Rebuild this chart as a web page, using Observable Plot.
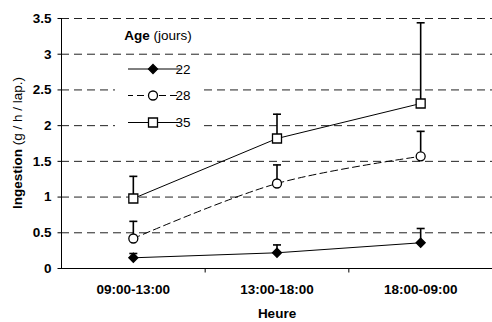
<!DOCTYPE html>
<html><head><meta charset="utf-8">
<script src="https://cdn.jsdelivr.net/npm/d3@7"></script>
<script src="https://cdn.jsdelivr.net/npm/@observablehq/plot@0.6"></script>
<style>
body{margin:0;background:#fff;}
svg{font-family:"Liberation Sans",Arial,sans-serif;}
</style></head>
<body><div id="chart"></div>
<script>
const categories = ["09:00-13:00", "13:00-18:00", "18:00-09:00"];
const ages = ["22", "28", "35"];
const mean22 = [0.15, 0.22, 0.36];
const err22 = [0.06, 0.11, 0.20];
const mean28 = [0.42, 1.19, 1.57];
const err28 = [0.24, 0.26, 0.35];
const mean35 = [0.98, 1.82, 2.31];
const err35 = [0.31, 0.34, 1.13];
const yTicks = [0, 0.5, 1, 1.5, 2, 2.5, 3, 3.5];
const yTickLabels = ["0", "0.5", "1", "1.5", "2", "2.5", "3", "3.5"];
const xTitle = "Heure";
const yTitleBold = "Ingestion";
const yTitleRest = " (g / h / lap.)";
const legendTitleBold = "Age";
const legendTitleRest = " (jours)";

const means = {"22": mean22, "28": mean28, "35": mean35};
const errs = {"22": err22, "28": err28, "35": err35};
const rows = [];
for (const a of ages) categories.forEach((c, i) => rows.push({age: a, cat: c, pos: i + 0.5, y: means[a][i], hi: means[a][i] + errs[a][i]}));

const sq = {draw(ctx){ctx.moveTo(-4.5,-4.5);ctx.lineTo(4.5,-4.5);ctx.lineTo(4.5,4.5);ctx.lineTo(-4.5,4.5);ctx.closePath();}};
const circ = {draw(ctx){ctx.moveTo(4.5,0);ctx.arc(0,0,4.5,0,2*Math.PI);ctx.closePath();}};
const dia = {draw(ctx){ctx.moveTo(0,-4.5);ctx.lineTo(4.5,0);ctx.lineTo(0,4.5);ctx.lineTo(-4.5,0);ctx.closePath();}};
const cap = {draw(ctx){ctx.moveTo(-4,0);ctx.lineTo(4,0);}};
const tickDown = {draw(ctx){ctx.moveTo(0,0);ctx.lineTo(0,4);}};
const tickLeft = {draw(ctx){ctx.moveTo(0,0);ctx.lineTo(-4,0);}};
const symbolOf = {"22": dia, "28": circ, "35": sq};
const fillOf = {"22": "black", "28": "white", "35": "white"};
const dashOf = {"22": null, "28": "7,4", "35": null};

const lineMarks = ages.map(a => Plot.line(rows.filter(r => r.age === a), {
  x: "pos", y: "y", stroke: "black", strokeWidth: 1,
  strokeDasharray: dashOf[a], curve: a === "28" ? "catmull-rom" : "linear"
}));
const markerMarks = ages.map(a => Plot.dot(rows.filter(r => r.age === a), {
  x: "pos", y: "y", symbol: () => symbolOf[a], r: 4, stroke: "black", strokeWidth: 1.3, fill: fillOf[a]
}));

const chart = Plot.plot({
  width: 492, height: 322,
  marginLeft: 61, marginRight: 0, marginTop: 18, marginBottom: 54,
  x: {type: "linear", domain: [0, 3], axis: null},
  y: {type: "linear", domain: [0, 3.5], axis: null},
  style: {fontFamily: "Liberation Sans, Arial, sans-serif", background: "white"},
  marks: [
    Plot.ruleY(yTicks.filter(d => d > 0), {stroke: "#222", strokeWidth: 1, strokeDasharray: "8,5"}),
    Plot.ruleY([0], {stroke: "black", strokeWidth: 1}),
    Plot.ruleX([0], {stroke: "black", strokeWidth: 1}),
    Plot.dot(yTicks, {x: 0, y: d => d, symbol: () => tickLeft, r: 4, stroke: "black", strokeWidth: 1}),
    Plot.dot([1, 2], {x: d => d, y: 0, symbol: () => tickDown, r: 4, stroke: "black", strokeWidth: 1}),
    Plot.text(yTicks, {x: 0, y: d => d, text: (d, i) => yTickLabels[i], dx: -10, textAnchor: "end", fontWeight: "bold", fontSize: 13.5, fill: "black"}),
    Plot.text(categories, {x: (d, i) => i + 0.5, y: 0, text: d => d, dy: 21, fontWeight: "bold", fontSize: 13.5, fill: "black"}),
    Plot.text([xTitle], {x: 1.5, y: 0, text: d => d, dy: 45, fontWeight: "bold", fontSize: 13.5, fill: "black"}),
    Plot.ruleX(rows, {x: "pos", y1: "y", y2: "hi", stroke: "black", strokeWidth: 1.6}),
    Plot.dot(rows, {x: "pos", y: "hi", symbol: () => cap, r: 4, stroke: "black", strokeWidth: 1.6}),
    ...lineMarks,
    ...markerMarks
  ]
});
document.getElementById("chart").append(chart);

const svg = d3.select(chart);
// y title
const yt = svg.append("text").attr("transform", "translate(22,143) rotate(-90)")
  .attr("text-anchor", "middle").attr("font-size", 13.5).attr("fill", "black");
yt.append("tspan").attr("font-weight", "bold").text(yTitleBold);
yt.append("tspan").text(yTitleRest);

// legend
const lg = svg.append("g");
lg.append("rect").attr("x", 115).attr("y", 57).attr("width", 88).attr("height", 74).attr("fill", "white");
const lt = lg.append("text").attr("x", 158).attr("y", 40).attr("text-anchor", "middle").attr("font-size", 13.5).attr("fill", "black");
lt.append("tspan").attr("font-weight", "bold").text(legendTitleBold);
lt.append("tspan").text(legendTitleRest);
const legY = [69, 95.5, 122.5];
ages.forEach((a, i) => {
  const y = legY[i];
  const ln = lg.append("line").attr("x1", 128).attr("x2", 180).attr("y1", y).attr("y2", y).attr("stroke", "black").attr("stroke-width", 1);
  if (dashOf[a]) ln.attr("stroke-dasharray", "7,4").attr("stroke-dashoffset", 2);
  lg.append("path").attr("d", d3.symbol(symbolOf[a], 50)()).attr("transform", `translate(153,${y})`)
    .attr("fill", fillOf[a]).attr("stroke", "black").attr("stroke-width", 1.3);
  lg.append("text").attr("x", 183).attr("y", y).attr("dy", "0.35em").attr("font-size", 13.5).attr("fill", "black").text(a);
});
</script></body></html>
